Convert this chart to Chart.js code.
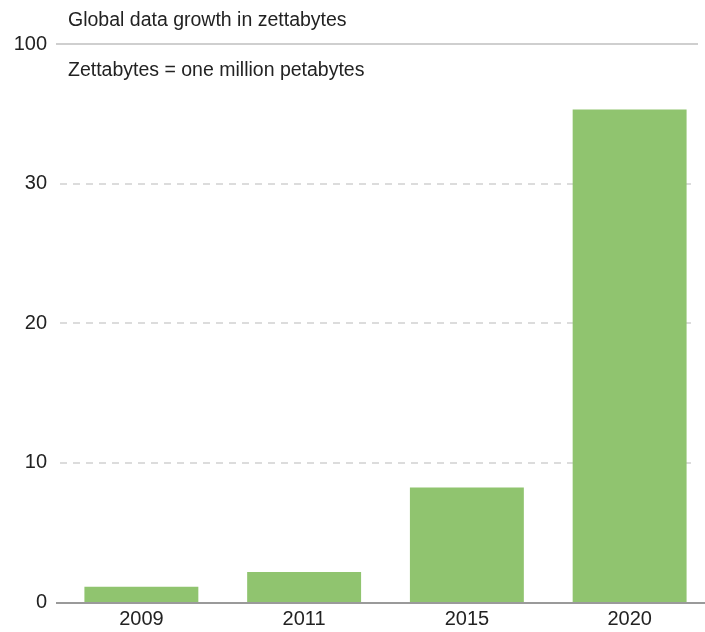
<!DOCTYPE html>
<html>
<head>
<meta charset="utf-8">
<script src="https://cdn.jsdelivr.net/npm/chart.js@4/dist/chart.umd.min.js"></script>
<style>
  html, body { margin: 0; padding: 0; background: #fff; overflow: hidden; }
  #wrap { width: 711px; height: 632px; position: relative; }
</style>
</head>
<body>
<div id="wrap"><canvas id="growthChart"></canvas></div>
<script>
const years = ['2009', '2011', '2015', '2020'];
const zettabytes = [1.1, 2.15, 8.2, 35.3];
const yTickValues = [0, 10, 20, 30, 40];
const yTickLabels = ['0', '10', '20', '30', '100'];
const chartTitle = 'Global data growth in zettabytes';
const chartNote = 'Zettabytes = one million petabytes';

const FONT = '"Liberation Sans", Arial, sans-serif';
const TEXT = '#222';

// horizontal rules, baseline and the two header lines
const decorations = {
    id: 'decorations',
    beforeDatasetsDraw(chart) {
        const c = chart.ctx, y = chart.scales.y;
        c.save();
        yTickValues.forEach((v, i) => {
            if (i === 0) return;
            const py = Math.round(y.getPixelForValue(v));
            c.beginPath();
            if (i === yTickValues.length - 1) {
                c.setLineDash([]);
                c.strokeStyle = '#cfcfcf';
                c.moveTo(56, py); c.lineTo(698, py);
            } else {
                c.setLineDash([7, 6]);
                c.strokeStyle = '#dcdcdc';
                c.moveTo(60, py); c.lineTo(697, py);
            }
            c.lineWidth = 2;
            c.stroke();
        });
        c.restore();
    },
    afterDatasetsDraw(chart) {
        const c = chart.ctx, y = chart.scales.y;
        c.save();
        const py = Math.round(y.getPixelForValue(0)) + 1;
        c.beginPath();
        c.strokeStyle = '#9a9a9a';
        c.lineWidth = 2;
        c.moveTo(56, py); c.lineTo(chart.width, py);
        c.stroke();

        c.fillStyle = TEXT;
        c.font = '19.5px ' + FONT;
        c.textBaseline = 'middle';
        c.textAlign = 'left';
        c.fillText(chartTitle, 68, 21);
        c.fillText(chartNote, 68, 71);
        c.restore();
    }
};

new Chart(document.getElementById('growthChart'), {
    type: 'bar',
    data: {
        labels: years,
        datasets: [{
            data: zettabytes,
            backgroundColor: '#90c46f',
            borderWidth: 0,
            categoryPercentage: 1,
            barPercentage: 0.7
        }]
    },
    options: {
        responsive: true,
        maintainAspectRatio: false,
        animation: false,
        layout: { padding: { top: 44, left: 0, right: 0, bottom: 0 } },
        plugins: {
            legend: { display: false },
            tooltip: { enabled: false }
        },
        scales: {
            x: {
                grid: { display: false, drawTicks: false },
                border: { display: false },
                ticks: { color: TEXT, font: { family: FONT, size: 20 }, padding: 5 },
                afterFit: s => { s.height = 30; }
            },
            y: {
                min: 0,
                max: 40,
                grid: { display: false, drawTicks: false },
                border: { display: false },
                afterBuildTicks: s => { s.ticks = yTickValues.map(v => ({ value: v })); },
                ticks: {
                    color: TEXT,
                    font: { family: FONT, size: 20 },
                    padding: 13,
                    callback: (v) => yTickLabels[yTickValues.indexOf(v)]
                },
                afterFit: s => { s.width = 60; }
            }
        }
    },
    plugins: [decorations]
});
</script>
</body>
</html>
